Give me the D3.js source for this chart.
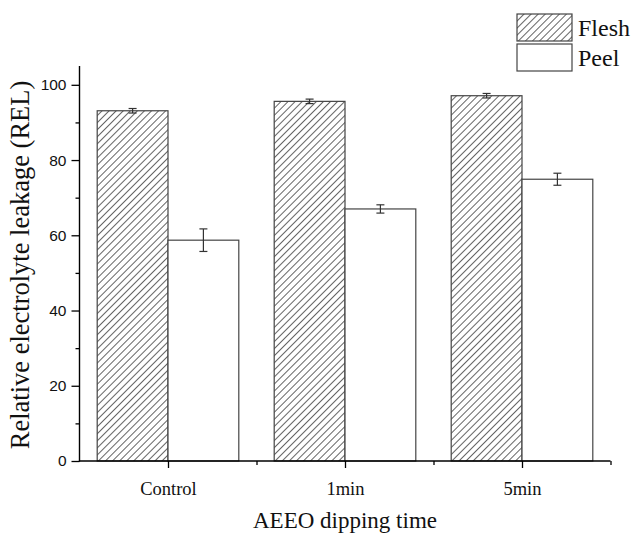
<!DOCTYPE html>
<html>
<head>
<meta charset="utf-8">
<script src="https://cdn.jsdelivr.net/npm/d3@7"></script>
<style>
html,body{margin:0;padding:0;background:#fff;}
svg{display:block;}
.serif{font-family:"Liberation Serif","Times New Roman",Times,serif;}
.sans{font-family:"Liberation Sans",Arial,Helvetica,sans-serif;}
</style>
</head>
<body>
<svg id="chart" width="632" height="533"></svg>
<script>
const categories = ["Control", "1min", "5min"];
const seriesNames = ["Flesh", "Peel"];
const fleshValues = [93.1, 95.6, 97.1];
const fleshErrors = [0.6, 0.6, 0.6];
const peelValues = [58.7, 67.0, 74.9];
const peelErrors = [3.0, 1.1, 1.6];
const yTicks = [0, 20, 40, 60, 80, 100];
const yMinorTicks = [10, 30, 50, 70, 90];

const svg = d3.select("#chart");
const x0 = 79.5, x1 = 610.5, yTop = 66, yBot = 461;

// hatch pattern
const defs = svg.append("defs");
const pat = defs.append("pattern")
  .attr("id", "hatch")
  .attr("patternUnits", "userSpaceOnUse")
  .attr("width", 5).attr("height", 5)
  .attr("patternTransform", "rotate(45)");
pat.append("rect").attr("width", 5).attr("height", 5).attr("fill", "#fff");
pat.append("line").attr("x1", 0).attr("y1", 0).attr("x2", 0).attr("y2", 5)
  .attr("stroke", "#222").attr("stroke-width", 1.4);

const x = d3.scaleLinear().domain([0.5, categories.length + 0.5]).range([x0, x1]);
const y = d3.scaleLinear().domain([0, 105]).range([yBot, yTop]);
const barW = x(1.4) - x(1.0);

const series = [
  {name: seriesNames[0], values: fleshValues, errors: fleshErrors, fill: "url(#hatch)", offset: -1},
  {name: seriesNames[1], values: peelValues, errors: peelErrors, fill: "#fff", offset: 0}
];

const g = svg.append("g");
series.forEach(s => {
  s.values.forEach((v, i) => {
    const cx = x(i + 1);
    const left = cx + s.offset * barW;
    g.append("rect")
      .attr("x", left).attr("y", y(v))
      .attr("width", barW).attr("height", y(0) - y(v))
      .attr("fill", s.fill).attr("stroke", "#444").attr("stroke-width", 1.2);
    const mx = left + barW / 2;
    const e = s.errors[i];
    const eg = g.append("g").attr("stroke", "#333").attr("stroke-width", 1.2);
    eg.append("line").attr("x1", mx).attr("x2", mx).attr("y1", y(v + e)).attr("y2", y(v - e));
    eg.append("line").attr("x1", mx - 4).attr("x2", mx + 4).attr("y1", y(v + e)).attr("y2", y(v + e));
    eg.append("line").attr("x1", mx - 4).attr("x2", mx + 4).attr("y1", y(v - e)).attr("y2", y(v - e));
  });
});

// Y axis
const yAxis = d3.axisLeft(y).tickValues(yTicks).tickSize(8).tickPadding(5);
const yg = svg.append("g").attr("transform", `translate(${x0},0)`).call(yAxis);
yg.attr("font-family", null).attr("font-size", null);
yg.select(".domain").remove();
yg.selectAll(".tick line").attr("stroke", "#000").attr("stroke-width", 1.3);
yg.selectAll(".tick text").attr("class", "sans").style("font-size", "15.5px").attr("fill", "#111");
const ym = d3.axisLeft(y).tickValues(yMinorTicks).tickSize(4).tickFormat("");
const ymg = svg.append("g").attr("transform", `translate(${x0},0)`).call(ym);
ymg.select(".domain").remove();
ymg.selectAll(".tick line").attr("stroke", "#000").attr("stroke-width", 1.3);

// X axis
const xAxis = d3.axisBottom(x).tickValues(d3.range(1, categories.length + 1))
  .tickSize(7).tickPadding(14).tickFormat(d => categories[d - 1]);
const xg = svg.append("g").attr("transform", `translate(0,${yBot})`).call(xAxis);
xg.attr("font-family", null).attr("font-size", null);
xg.select(".domain").remove();
xg.selectAll(".tick line").attr("stroke", "#000").attr("stroke-width", 1.3);
xg.selectAll(".tick text").attr("class", "serif").style("font-size", "18.5px").attr("fill", "#111");
const xm = d3.axisBottom(x).tickValues(d3.range(1.5, categories.length + 0.6, 1)).tickSize(4).tickFormat("");
const xmg = svg.append("g").attr("transform", `translate(0,${yBot})`).call(xm);
xmg.select(".domain").remove();
xmg.selectAll(".tick line").attr("stroke", "#000").attr("stroke-width", 1.3);

// axis lines
svg.append("line").attr("x1", x0).attr("x2", x0).attr("y1", yTop).attr("y2", yBot + 0.6)
  .attr("stroke", "#000").attr("stroke-width", 1.4);
svg.append("line").attr("x1", x0 - 0.6).attr("x2", x1).attr("y1", yBot).attr("y2", yBot)
  .attr("stroke", "#000").attr("stroke-width", 1.4);

// Axis titles
svg.append("text").attr("class", "serif").attr("x", (x0 + x1) / 2).attr("y", 528)
  .attr("text-anchor", "middle").style("font-size", "23px").attr("fill", "#111")
  .text("AEEO dipping time");
svg.append("text").attr("class", "serif")
  .attr("transform", `translate(29,265) rotate(-90)`)
  .attr("text-anchor", "middle").style("font-size", "26.5px").attr("fill", "#111")
  .text("Relative electrolyte leakage (REL)");

// Legend
const lg = svg.append("g");
series.forEach((s, i) => {
  const ly = 14 + i * 30;
  lg.append("rect").attr("x", 517).attr("y", ly).attr("width", 55).attr("height", 27)
    .attr("fill", s.fill).attr("stroke", "#444").attr("stroke-width", 1.2);
  lg.append("text").attr("class", "serif").attr("x", 578).attr("y", ly + 22)
    .style("font-size", "24px").attr("fill", "#111").text(s.name);
});
</script>
</body>
</html>
